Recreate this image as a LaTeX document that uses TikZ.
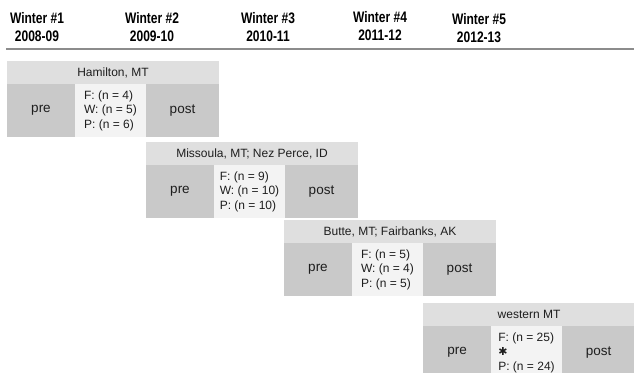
\documentclass[tikz,border=0pt]{standalone}
\usepackage{fontspec}
\setmainfont{Liberation Sans}
\newfontfamily\symfont{DejaVu Sans}
\definecolor{barc}{HTML}{DFDFDF}
\definecolor{cellc}{HTML}{C9C9C9}
\definecolor{midc}{HTML}{F3F3F3}
\definecolor{txt}{HTML}{1E1E1E}
\definecolor{rulec}{HTML}{8C8C8C}
\newcommand\hx[1]{\scalebox{1}[1.27]{#1}}
\tikzset{
  hdr/.style={font=\bfseries\fontsize{12}{18}\selectfont, align=center, text=black, inner sep=0},
  bar/.style={fill=barc, minimum width=212pt, minimum height=23pt, anchor=north west,
    inner sep=0, outer sep=0, font=\fontsize{12}{14}\selectfont, text=txt},
  cell/.style={fill=cellc, minimum height=53pt, anchor=north west, inner sep=0, outer sep=0,
    font=\fontsize{13.5}{16}\selectfont, text=txt},
  mid/.style={fill=midc, minimum height=53pt, minimum width=71pt, anchor=north west,
    inner sep=0, outer sep=0, align=left, font=\fontsize{12}{14.5}\selectfont, text=txt},
}
\newcommand\wblock[5]{%
  \node[bar] (#1bar) at (#2,#3) {#4};
  \node[cell, minimum width=68pt] (#1pre) at (#1bar.south west) {pre};
  \node[mid] (#1mid) at (#1pre.north east) {#5};
  \node[cell, minimum width=73pt] (#1post) at (#1mid.north east) {post};
}
\begin{document}
\begin{tikzpicture}[x=1pt, y=-1pt]
\useasboundingbox (0,0) rectangle (634,372);
\clip (0,0) rectangle (634,372);
\node[hdr] (h1) at (37,27.5) {\hx{Winter \#1}\\\hx{2008-09}};
\node[hdr] (h2) at (152,27.5) {\hx{Winter \#2}\\\hx{2009-10}};
\node[hdr] (h3) at (268,27.5) {\hx{Winter \#3}\\\hx{2010-11}};
\node[hdr] (h4) at (380,26) {\hx{Winter \#4}\\\hx{2011-12}};
\node[hdr] (h5) at (479,28.5) {\hx{Winter \#5}\\\hx{2012-13}};
\coordinate (rl) at (6,49);
\coordinate (rr) at (634,49);
\draw[rulec, line width=2.2pt] (rl) -- (rr);
\wblock{a}{7}{61}{Hamilton, MT}{F: (n = 4)\\W: (n = 5)\\P: (n = 6)}
\wblock{b}{146}{142}{Missoula, MT; Nez Perce, ID}{F: (n = 9)\\W: (n = 10)\\P: (n = 10)}
\wblock{c}{284}{220}{Butte, MT; Fairbanks, AK}{F: (n = 5)\\W: (n = 4)\\P: (n = 5)}
\wblock{d}{423}{303}{western MT}{F: (n = 25)\\{\symfont\fontsize{11}{10}\selectfont ✱}\\P: (n = 24)}
\end{tikzpicture}
\end{document}
